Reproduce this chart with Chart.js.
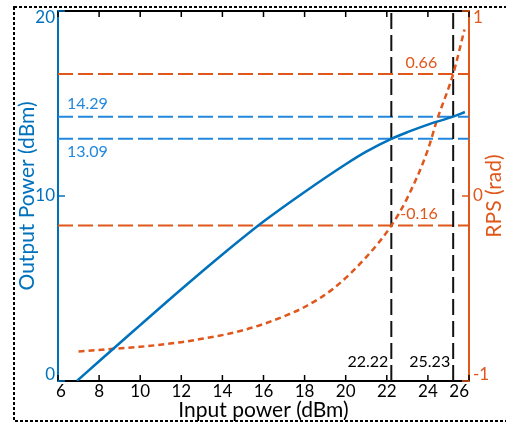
<!DOCTYPE html>
<html>
<head>
<meta charset="utf-8">
<script src="https://cdn.jsdelivr.net/npm/chart.js@4.4.0/dist/chart.umd.min.js"></script>
<style>
  html, body { margin: 0; padding: 0; background: #fff; }
  canvas { display: block; }
</style>
</head>
<body>
<canvas id="ampChart" width="506" height="425"></canvas>
<script>
// data
const inputPower  = [6.92, 8, 10, 12, 14, 16, 18, 20, 21, 22.22, 23, 24, 25.23, 25.8];
const outputPower = [0, 1.07, 3.02, 4.96, 6.84, 8.62, 10.22, 11.72, 12.4, 13.09, 13.45, 13.86, 14.29, 14.54];

const rpsInput  = [7, 8, 10, 12, 13, 14, 15, 16, 17, 18, 19.4, 21, 22.22, 23, 24, 24.44, 25.23, 25.78];
const rpsValues = [-0.84, -0.832, -0.815, -0.79, -0.772, -0.752, -0.726, -0.692, -0.65, -0.6, -0.5, -0.33, -0.16, -0.01, 0.25, 0.41, 0.66, 0.9];

const outputMarks = [14.29, 13.09];
const rpsMarks = [0.66, -0.16];
const inputMarks = [22.22, 25.23];

const xTicks = [6, 8, 10, 12, 14, 16, 18, 20, 22, 24, 26];
const yTicks = [0, 10, 20];
const rpsTicks = [-1, 0, 1];

const BLUE = '#0072BD';
const BLUE_LIGHT = '#2388DD';
const ORANGE = '#DF571B';
const FONT = 'Lato, "Open Sans", sans-serif';

const toPoints = (xs, ys) => xs.map((x, i) => ({ x: x, y: ys[i] }));
const xMin = xTicks[0], xMax = xTicks[xTicks.length - 1];

const datasets = [
    {
        data: toPoints(inputPower, outputPower),
        borderColor: BLUE, borderWidth: 2.5,
        yAxisID: 'y', order: 0, cubicInterpolationMode: 'monotone'
    },
    {
        data: toPoints(rpsInput, rpsValues),
        borderColor: ORANGE, borderWidth: 2.5, borderDash: [6, 4],
        yAxisID: 'rps', order: 0, cubicInterpolationMode: 'monotone'
    }
];
outputMarks.forEach(v => datasets.push({
    data: [{ x: xMin, y: v }, { x: xMax, y: v }],
    borderColor: BLUE_LIGHT, borderWidth: 2, borderDash: [15, 5],
    yAxisID: 'y', order: 2
}));
rpsMarks.forEach(v => datasets.push({
    data: [{ x: xMin, y: v }, { x: xMax, y: v }],
    borderColor: ORANGE, borderWidth: 2, borderDash: [15, 5],
    yAxisID: 'rps', order: 2
}));
inputMarks.forEach(v => datasets.push({
    data: [{ x: v, y: yTicks[0] }, { x: v, y: yTicks[yTicks.length - 1] }],
    borderColor: '#111', borderWidth: 2, borderDash: [16, 6],
    yAxisID: 'y', order: 1
}));
datasets.forEach(d => { d.showLine = true; d.pointRadius = 0; d.fill = false; });

// frame, inward ticks and all the text
const decorPlugin = {
    id: 'decor',
    beforeDraw(chart) {
        const ctx = chart.ctx;
        ctx.save();
        ctx.fillStyle = '#fff';
        ctx.fillRect(0, 0, chart.width, chart.height);
        ctx.strokeStyle = '#000';
        ctx.lineWidth = 2;
        ctx.setLineDash([3, 2]);
        ctx.strokeRect(14, 7, 520, 414);
        ctx.restore();
    },
    afterDraw(chart) {
        const ctx = chart.ctx;
        const { left, right, top, bottom } = chart.chartArea;
        const sx = chart.scales.x, sy = chart.scales.y, sr = chart.scales.rps;
        ctx.save();
        ctx.setLineDash([]);

        // ticks
        ctx.lineWidth = 1.5;
        ctx.strokeStyle = '#000';
        xTicks.forEach(t => {
            const px = sx.getPixelForValue(t);
            ctx.beginPath();
            ctx.moveTo(px, bottom); ctx.lineTo(px, bottom - 6);
            ctx.moveTo(px, top); ctx.lineTo(px, top + 6);
            ctx.stroke();
        });
        ctx.strokeStyle = BLUE;
        yTicks.forEach(t => {
            const py = sy.getPixelForValue(t);
            ctx.beginPath(); ctx.moveTo(left, py); ctx.lineTo(left + 7, py); ctx.stroke();
        });
        ctx.strokeStyle = ORANGE;
        rpsTicks.forEach(t => {
            const py = sr.getPixelForValue(t);
            ctx.beginPath(); ctx.moveTo(right, py); ctx.lineTo(right - 7, py); ctx.stroke();
        });

        // tick labels
        ctx.font = '17px ' + FONT;
        ctx.textBaseline = 'middle';
        ctx.fillStyle = '#000';
        ctx.textAlign = 'center';
        xTicks.forEach(t => {
            const txt = String(t);
            const w = ctx.measureText(txt).width;
            let px = sx.getPixelForValue(t);
            px = Math.min(Math.max(px, left + w / 2 - 2), right - w / 2);
            ctx.fillText(txt, px, bottom + 11);
        });
        const clampY = py => Math.min(Math.max(py, top + 7), bottom - 6);
        ctx.fillStyle = BLUE;
        ctx.textAlign = 'right';
        yTicks.forEach(t => ctx.fillText(String(t), left - 3, clampY(sy.getPixelForValue(t))));
        ctx.fillStyle = ORANGE;
        ctx.textAlign = 'left';
        rpsTicks.forEach(t => ctx.fillText(String(t), right + 4, clampY(sr.getPixelForValue(t))));

        // marker labels
        ctx.font = '16px ' + FONT;
        ctx.fillStyle = BLUE_LIGHT;
        ctx.textAlign = 'left';
        ctx.fillText(outputMarks[0].toFixed(2), left + 9, sy.getPixelForValue(outputMarks[0]) - 13);
        ctx.fillText(outputMarks[1].toFixed(2), left + 9, sy.getPixelForValue(outputMarks[1]) + 13);
        ctx.fillStyle = ORANGE;
        ctx.textAlign = 'right';
        ctx.fillText(rpsMarks[0].toFixed(2), sx.getPixelForValue(inputMarks[1]) - 16, sr.getPixelForValue(rpsMarks[0]) - 11);
        ctx.textAlign = 'left';
        ctx.fillText(rpsMarks[1].toFixed(2), sx.getPixelForValue(inputMarks[0]) + 9, sr.getPixelForValue(rpsMarks[1]) - 12);
        ctx.fillStyle = '#000';
        ctx.textAlign = 'right';
        inputMarks.forEach(v => ctx.fillText(v.toFixed(2), sx.getPixelForValue(v) - 3, bottom - 19));

        // axis titles
        ctx.font = '21px ' + FONT;
        ctx.textAlign = 'center';
        ctx.fillStyle = '#000';
        ctx.fillText('Input power (dBm)', (left + right) / 2, 410);
        ctx.save();
        ctx.translate(27, (top + bottom) / 2);
        ctx.rotate(-Math.PI / 2);
        ctx.fillStyle = BLUE;
        ctx.fillText('Output Power (dBm)', 0, 0);
        ctx.restore();
        ctx.save();
        ctx.translate(494, (top + bottom) / 2);
        ctx.rotate(-Math.PI / 2);
        ctx.fillStyle = ORANGE;
        ctx.fillText('RPS (rad)', 0, 0);
        ctx.restore();

        ctx.restore();
    }
};

const hiddenAxis = (extra) => Object.assign({
    type: 'linear',
    grid: { display: false },
    ticks: { display: false }
}, extra);

new Chart(document.getElementById('ampChart'), {
    type: 'scatter',
    data: { datasets: datasets },
    options: {
        responsive: false,
        devicePixelRatio: 1,
        animation: false,
        layout: { padding: 0 },
        plugins: { legend: { display: false }, tooltip: { enabled: false } },
        scales: {
            x: hiddenAxis({
                position: 'bottom', min: xMin, max: xMax,
                border: { color: '#000', width: 2 },
                afterFit: s => { s.height = 44; }
            }),
            xTop: hiddenAxis({
                axis: 'x', position: 'top', min: xMin, max: xMax,
                border: { color: '#000', width: 2 },
                afterFit: s => { s.height = 11; }
            }),
            y: hiddenAxis({
                position: 'left', min: yTicks[0], max: yTicks[yTicks.length - 1],
                border: { color: BLUE, width: 2 },
                afterFit: s => { s.width = 58; }
            }),
            rps: hiddenAxis({
                axis: 'y', position: 'right', min: rpsTicks[0], max: rpsTicks[rpsTicks.length - 1],
                border: { color: ORANGE, width: 2 },
                afterFit: s => { s.width = 37; }
            })
        }
    },
    plugins: [decorPlugin]
});
</script>
</body>
</html>
